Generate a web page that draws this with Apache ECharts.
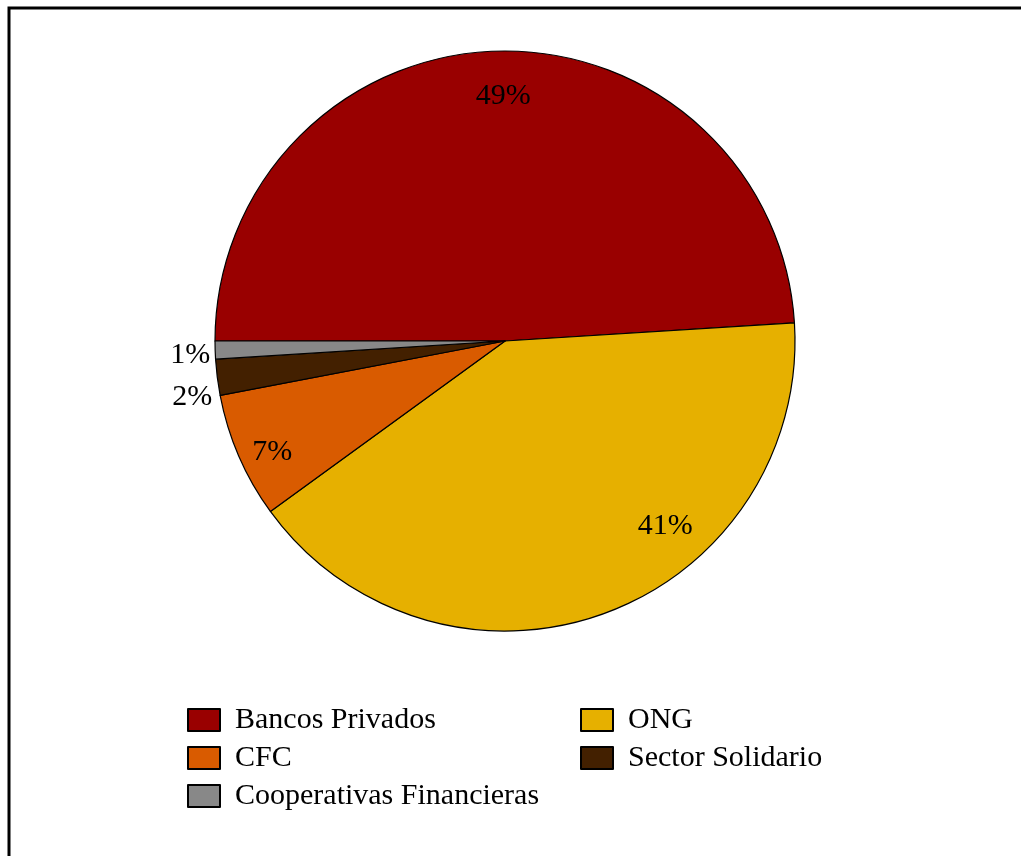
<!DOCTYPE html>
<html>
<head>
<meta charset="utf-8">
<script src="https://cdn.jsdelivr.net/npm/echarts@6/dist/echarts.min.js"></script>
<style>
  html, body { margin: 0; padding: 0; background: #fff; }
  #chart { width: 1021px; height: 856px; }
</style>
</head>
<body>
<div id="chart"></div>
<script>
// categorias y participacion (%)
const categories = ['Bancos Privados', 'ONG', 'CFC', 'Sector Solidario', 'Cooperativas Financieras'];
const shares = [49, 41, 7, 2, 1];
const colors = ['#990000', '#e6b000', '#d95b00', '#432000', '#888888'];

// donde va cada etiqueta y cuanto se corre
const labelPos = ['inside', 'inside', 'inside', 'outside', 'outside'];
const labelShift = [[3, -97], [110, 46], [-97, 52], [0, 20], [0, 5]];

const serif = 'Liberation Serif, Times New Roman, serif';

let myChart = echarts.init(document.getElementById('chart'));

let pieData = categories.map((name, i) => ({
    name: name,
    value: shares[i],
    itemStyle: {color: colors[i]},
    label: {position: labelPos[i]}
}));

let legendItem = (name) => ({name: name, itemStyle: {color: colors[categories.indexOf(name)]}});

let legendBase = {
    orient: 'vertical',
    top: 705,
    padding: 0,
    itemWidth: 32,
    itemHeight: 22,
    itemGap: 8,
    icon: 'rect',
    selectedMode: false,
    itemStyle: {borderColor: '#000', borderWidth: 2},
    textStyle: {fontFamily: serif, fontSize: 30, color: '#000', padding: [0, 0, 0, 10]}
};

let option = {
    backgroundColor: '#fff',
    animation: false,
    graphic: [{
        type: 'rect',
        shape: {x: 9, y: 8, width: 1200, height: 1000},
        style: {fill: 'none', stroke: '#000', lineWidth: 3},
        silent: true
    }],
    legend: [
        Object.assign({}, legendBase, {
            left: 187,
            data: ['Bancos Privados', 'CFC', 'Cooperativas Financieras'].map(legendItem)
        }),
        Object.assign({}, legendBase, {
            left: 580,
            data: ['ONG', 'Sector Solidario'].map(legendItem)
        })
    ],
    series: [{
        type: 'pie',
        center: [505, 341],
        radius: 290,
        startAngle: 180,
        clockwise: true,
        avoidLabelOverlap: false,
        percentPrecision: 0,
        itemStyle: {borderColor: '#000', borderWidth: 1.2},
        label: {
            formatter: '{d}%',
            fontFamily: serif,
            fontSize: 30,
            color: '#000'
        },
        labelLine: {show: false, length: 0, length2: 0},
        labelLayout: (params) => {
            let s = labelShift[params.dataIndex];
            return {dx: s[0], dy: s[1]};
        },
        emphasis: {disabled: true},
        data: pieData
    }]
};

myChart.setOption(option);
</script>
</body>
</html>
